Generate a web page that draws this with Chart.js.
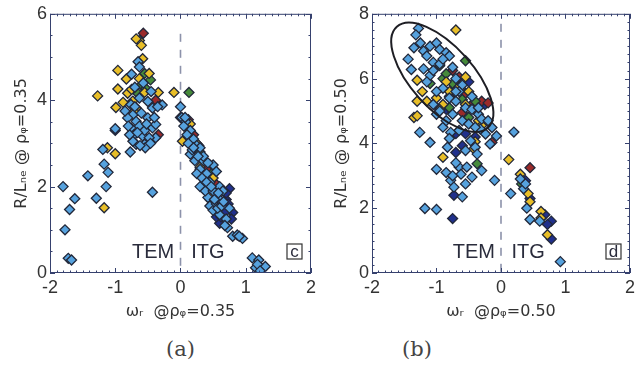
<!DOCTYPE html>
<html>
<head>
<meta charset="utf-8">
<script src="https://cdn.jsdelivr.net/npm/chart.js@4"></script>
<style>
    body { margin: 0; background: #fff; width: 639px; height: 375px; position: relative; overflow: hidden; }
    canvas { position: absolute; top: 0; }
    #chartA { left: 0; }
    #chartB { left: 320px; }
    .cap { position: absolute; top: 337px; font: 21px "DejaVu Serif", "Liberation Serif", serif; color: #444; }
</style>
</head>
<body>
<canvas id="chartA" width="320" height="330"></canvas>
<canvas id="chartB" width="319" height="330"></canvas>
<div class="cap" style="left:166px">(a)</div>
<div class="cap" style="left:402px">(b)</div>
<script>
// panel (a): rho = 0.35
const xTicks = [-2, -1, 0, 1, 2];
const aYTicks = [0, 2, 4, 6];
const bYTicks = [0, 2, 4, 6, 8];

const aBlue = [
    [-1.8, 2.0], [-1.77, 1.0], [-1.7, 1.47], [-1.62, 1.72], [-1.72, 0.34], [-1.67, 0.3],
    [-1.42, 2.25], [-1.29, 1.73], [-1.19, 2.86], [-1.17, 2.52], [-1.11, 2.33], [-1.14, 2.0],
    [-1.0, 3.34], [-0.77, 2.8], [-0.43, 1.87],
    [-0.65, 4.89], [-0.63, 4.77], [-0.76, 3.9], [-0.73, 3.66], [-0.68, 3.51], [-0.76, 3.36],
    [-0.63, 3.4], [-0.71, 3.2], [-0.58, 3.17], [-0.68, 2.98], [-0.55, 2.98], [-0.5, 3.59],
    [-0.43, 3.36], [-0.38, 3.13], [-0.48, 3.13], [-0.28, 3.89], [-0.43, 3.82], [-0.81, 3.59],
    [-0.63, 4.05], [-0.5, 3.97], [-0.73, 3.05], [-0.54, 2.9], [-0.38, 3.44], [-0.6, 3.7],
    [-0.78, 3.2], [-0.55, 3.3], [-0.45, 4.2], [-0.7, 4.3],
    [-0.85, 3.75], [-0.8, 3.4], [-0.66, 3.25], [-0.52, 3.45], [-0.46, 3.0], [-0.62, 2.95],
    [-0.7, 3.85], [-0.57, 4.4], [-0.75, 4.6], [-0.4, 3.6], [-0.35, 3.85],
    [0.0, 3.85], [0.02, 3.6], [0.08, 3.5], [0.15, 3.3], [0.2, 3.1], [0.25, 2.95], [0.15, 2.75],
    [0.22, 2.6], [0.3, 2.4], [0.35, 2.6], [0.4, 2.3], [0.45, 2.1], [0.5, 2.5], [0.55, 2.35],
    [0.6, 2.0], [0.65, 1.9], [0.42, 1.75], [0.45, 1.55], [0.5, 1.45], [0.55, 1.6], [0.6, 1.35],
    [0.7, 1.25], [0.72, 1.05], [0.75, 1.5], [0.8, 0.85], [0.87, 0.88], [0.95, 0.8], [1.1, 0.35],
    [1.2, 0.3], [1.15, 0.12], [1.25, 0.1], [1.3, 0.15], [0.1, 3.2], [0.3, 2.9], [0.35, 2.7],
    [0.6, 1.7], [0.3, 2.0], [0.38, 1.9], [0.25, 2.3], [0.5, 1.9],
    [0.05, 3.4], [0.12, 3.0], [0.18, 2.85], [0.27, 2.7], [0.33, 2.2], [0.4, 2.1], [0.47, 2.0],
    [0.52, 1.7], [0.57, 1.5], [0.63, 1.55], [0.68, 1.1], [0.66, 1.65], [0.58, 1.85],
    [0.42, 2.55], [0.2, 2.9], [0.07, 3.6], [1.18, 0.2], [1.22, 0.05], [0.9, 0.85]
];
const aYellow = [
    [-1.27, 4.1], [-1.12, 2.9], [-1.0, 2.76], [-1.17, 1.51],
    [-0.96, 4.69], [-0.83, 4.49], [-0.99, 3.83], [-0.96, 4.26], [-0.81, 4.16], [-0.63, 4.5],
    [-0.55, 4.18], [-0.34, 4.18], [-0.73, 3.98], [-0.68, 3.82], [-0.71, 3.74], [-0.1, 4.18],
    [-0.63, 5.38], [-0.68, 5.42], [-0.6, 5.27], [-0.58, 4.96], [-0.48, 4.62],
    [-0.75, 4.25], [-0.88, 3.95],
    [0.03, 3.05], [0.15, 3.45], [0.25, 3.0], [0.3, 2.45], [0.5, 2.2], [0.35, 1.95], [0.45, 1.8]
];
const aGreen = [
    [-0.55, 4.62], [-0.6, 4.35], [-0.53, 4.27], [0.13, 4.18], [-0.46, 4.47], [-0.65, 4.15],
    [0.3, 2.8], [0.1, 3.35], [0.48, 2.3]
];
const aRed = [
    [-0.57, 5.55], [-0.38, 4.0], [-0.34, 3.2],
    [0.0, 3.6], [0.08, 3.4], [0.2, 3.2], [0.28, 2.95], [0.45, 2.5], [0.52, 1.85], [0.55, 2.05],
    [0.4, 2.4], [0.12, 3.55]
];
const aNavy = [
    [-1.0, 3.3], [0.65, 1.5], [0.7, 1.7], [0.75, 1.95], [0.8, 1.4], [0.6, 1.15], [0.68, 1.4],
    [0.55, 1.3], [0.7, 1.85], [0.45, 1.7], [0.62, 1.3], [0.73, 1.6], [0.78, 1.25]
];

// panel (b): rho = 0.50
const bBlue = [
    [-1.44, 6.6], [-1.39, 6.28], [-1.26, 4.34], [-1.1, 4.03], [-1.18, 1.99], [-1.0, 1.96],
    [-1.0, 3.2], [-0.83, 3.88], [-0.78, 2.86], [-0.73, 2.65], [-0.6, 2.35], [-0.65, 3.27],
    [-0.53, 3.27], [-0.45, 2.96], [-0.47, 4.08], [-0.4, 3.88], [-0.37, 3.67], [-0.3, 3.16],
    [-0.17, 3.98], [-0.1, 2.86], [-0.14, 4.49], [-0.07, 4.23], [-0.32, 4.44], [-0.24, 4.29],
    [-0.55, 3.78], [-0.78, 4.34],
    [-1.0, 4.9], [-0.9, 4.5], [-0.8, 4.15], [-0.7, 3.4], [-0.62, 3.05], [-0.55, 2.75],
    [-0.85, 3.1], [-0.75, 3.0],
    [-1.28, 7.55], [-1.32, 7.35], [-1.25, 7.1], [-1.2, 6.85], [-1.35, 6.95], [-1.1, 7.0],
    [-1.0, 7.1], [-0.95, 6.9], [-0.85, 6.8], [-0.8, 6.7], [-1.15, 6.7], [-1.05, 6.5],
    [-0.95, 6.45], [-1.2, 6.3], [-1.1, 6.1], [-0.75, 6.35], [-0.7, 6.0], [-0.6, 5.8],
    [-0.9, 5.7], [-0.8, 5.4], [-0.7, 5.3], [-0.55, 5.1], [-0.45, 5.05], [-0.35, 4.9],
    [-0.6, 4.7], [-0.5, 4.6], [-0.75, 4.9], [-0.85, 4.7], [-0.95, 5.0], [-1.05, 5.2],
    [-0.3, 4.75], [-0.2, 4.7], [-0.65, 4.4], [-0.4, 4.5], [-1.0, 5.6], [-0.65, 5.6],
    [-1.15, 5.9], [-1.05, 6.25], [-0.9, 6.6], [-0.7, 5.6], [-0.45, 5.45], [-0.35, 5.1],
    [0.2, 4.35], [0.15, 2.45], [0.3, 2.9], [0.35, 2.6], [0.4, 2.0], [0.45, 1.65], [0.6, 1.6],
    [0.92, 0.35], [0.38, 2.75]
];
const bYellow = [
    [-0.9, 3.57], [-0.42, 3.83], [-0.7, 7.5], [-1.3, 5.95], [-1.22, 5.6], [-1.15, 5.3],
    [-1.3, 5.3], [-1.0, 5.4], [-0.9, 5.2], [-0.8, 5.6], [-0.65, 5.75], [-0.55, 5.2],
    [-0.5, 5.6], [-0.35, 4.7], [-0.3, 4.55], [-1.35, 4.8], [-1.3, 4.85], [-0.85, 5.9],
    [-0.55, 6.05], [-0.95, 5.05], [-0.4, 4.05],
    [0.12, 3.5], [0.3, 3.05], [0.42, 2.45], [0.45, 2.2], [0.62, 1.9], [0.62, 1.7], [0.72, 1.18]
];
const bGreen = [
    [-0.37, 3.37], [-0.55, 6.55], [-0.95, 6.4], [-0.9, 6.0], [-0.85, 6.15], [-0.75, 5.85],
    [-0.6, 5.35], [-0.8, 5.1], [-0.5, 4.8], [-0.4, 5.3], [-1.1, 5.85], [0.32, 2.75]
];
const bRed = [
    [-0.14, 4.03], [-0.75, 6.25], [-0.65, 6.05], [-0.8, 5.45], [-0.55, 5.55], [-0.45, 5.2],
    [-0.3, 5.3], [-0.2, 5.25], [-0.6, 4.95], [0.45, 3.25]
];
const bNavy = [
    [-0.75, 1.68], [-0.73, 2.4], [-0.6, 3.93], [-0.7, 3.72], [-0.7, 4.3], [-0.55, 4.3],
    [-0.25, 5.2], [-0.4, 4.2], [-0.85, 5.05], [-0.5, 5.9],
    [0.38, 2.85], [0.45, 2.3], [0.68, 1.8], [0.78, 1.6], [0.72, 1.5], [0.78, 1.05]
];

const colors = {
    blue: '#56a2de',
    yellow: '#e8be28',
    green: '#468a3a',
    red: '#9a2a2a',
    navy: '#20308c'
};

function toPoints(arr) {
    return arr.map(p => ({ x: p[0], y: p[1] }));
}

function makeSet(arr, color) {
    return {
        data: toPoints(arr),
        pointStyle: 'rectRot',
        pointRadius: 5,
        pointHoverRadius: 5,
        backgroundColor: color,
        borderColor: '#22283a',
        borderWidth: 1.3
    };
}

// frame, minor ticks, dashed line, labels, ellipse
const decorPlugin = {
    id: 'decor',
    beforeDatasetsDraw(chart, args, opts) {
        const { ctx, chartArea: a, scales: { x } } = chart;
        const x0 = x.getPixelForValue(0);
        ctx.save();
        ctx.strokeStyle = '#8c92aa';
        ctx.lineWidth = 1.6;
        ctx.setLineDash([8, 8]);
        ctx.beginPath();
        ctx.moveTo(x0, a.top + opts.dashTop);
        ctx.lineTo(x0, a.bottom);
        ctx.stroke();
        ctx.restore();
    },
    afterDatasetsDraw(chart, args, opts) {
        const { ctx, chartArea: a, scales: { x, y } } = chart;
        ctx.save();
        // frame
        ctx.strokeStyle = '#36416e';
        ctx.lineWidth = 1;
        ctx.strokeRect(a.left + 0.5, a.top + 0.5, a.width - 1, a.height - 1);
        // minor ticks
        ctx.beginPath();
        for (let v = -2; v <= 2.001; v += 0.1) {
            const px = Math.round(x.getPixelForValue(v)) + 0.5;
            const len = Math.abs(v - Math.round(v)) < 0.01 ? 5 : 2.5;
            ctx.moveTo(px, a.top); ctx.lineTo(px, a.top + len);
            ctx.moveTo(px, a.bottom); ctx.lineTo(px, a.bottom - len);
        }
        for (let v = 0; v <= y.max + 0.001; v += opts.yMinor) {
            const py = Math.round(y.getPixelForValue(v)) + 0.5;
            const len = Math.abs(v / 2 - Math.round(v / 2)) < 0.01 ? 5 : 2.5;
            ctx.moveTo(a.left, py); ctx.lineTo(a.left + len, py);
            ctx.moveTo(a.right, py); ctx.lineTo(a.right - len, py);
        }
        ctx.stroke();

        // ellipse
        if (opts.ellipse) {
            const e = opts.ellipse;
            ctx.strokeStyle = '#1e1e24';
            ctx.lineWidth = 2;
            ctx.beginPath();
            ctx.ellipse(x.getPixelForValue(e.x), y.getPixelForValue(e.y), e.rx, e.ry, e.rot, 0, Math.PI * 2);
            ctx.stroke();
        }

        // TEM / ITG
        ctx.fillStyle = '#2a2c3c';
        ctx.font = '20px "Liberation Sans", Arial, sans-serif';
        ctx.textAlign = 'center';
        ctx.textBaseline = 'alphabetic';
        const ty = a.bottom - 15;
        ctx.fillText('TEM', x.getPixelForValue(-0.42), ty);
        ctx.fillText('ITG', x.getPixelForValue(0.42), ty);

        // panel letter in box
        const bx = a.right - 24, by = a.bottom - 29;
        ctx.strokeStyle = '#333';
        ctx.lineWidth = 1.2;
        ctx.strokeRect(bx, by, 15, 15);
        ctx.font = '17px "Liberation Sans", Arial, sans-serif';
        ctx.fillText(opts.letter, bx + 7.5, by + 13);
        ctx.restore();
    }
};

function makeChart(id, sets, yTicks, yTitle, xTitle, pad, decor) {
    const ctx = document.getElementById(id).getContext('2d');
    const tickFont = { family: '"Liberation Sans", Arial, sans-serif', size: 18 };
    const titleFont = { family: '"DejaVu Sans", "Liberation Sans", sans-serif', size: 16 };
    return new Chart(ctx, {
        type: 'scatter',
        data: { datasets: sets },
        options: {
            responsive: false,
            animation: false,
            layout: { padding: pad },
            plugins: {
                legend: { display: false },
                tooltip: { enabled: false },
                decor: decor
            },
            scales: {
                x: {
                    type: 'linear',
                    min: xTicks[0],
                    max: xTicks[xTicks.length - 1],
                    afterBuildTicks: s => { s.ticks = xTicks.map(v => ({ value: v })); },
                    afterFit: s => { s.height = 57; },
                    grid: { display: false, drawTicks: false, tickLength: 0 },
                    border: { display: false },
                    ticks: { color: '#333', font: tickFont, padding: 4, maxRotation: 0 },
                    title: { display: true, text: xTitle, color: '#333', font: titleFont, padding: { top: 2, bottom: 9 } }
                },
                y: {
                    type: 'linear',
                    min: yTicks[0],
                    max: yTicks[yTicks.length - 1],
                    afterBuildTicks: s => { s.ticks = yTicks.map(v => ({ value: v })); },
                    afterFit: s => { s.width = pad.axisW; },
                    grid: { display: false, drawTicks: false, tickLength: 0 },
                    border: { display: false },
                    ticks: { color: '#333', font: tickFont, padding: 3 },
                    title: { display: true, text: yTitle, color: '#333', font: titleFont, padding: { top: 12, bottom: 0 } }
                }
            }
        },
        plugins: [decorPlugin]
    });
}

makeChart('chartA',
    [makeSet(aBlue, colors.blue), makeSet(aYellow, colors.yellow), makeSet(aGreen, colors.green),
     makeSet(aRed, colors.red), makeSet(aNavy, colors.navy)],
    aYTicks, 'R/Lₙₑ @ ρᵩ=0.35', 'ωᵣ  @ρᵩ=0.35',
    { top: 11, right: 7, left: 0, bottom: 0, axisW: 50 },
    { letter: 'c', yMinor: 0.5, dashTop: 20 });

makeChart('chartB',
    [makeSet(bBlue, colors.blue), makeSet(bYellow, colors.yellow), makeSet(bGreen, colors.green),
     makeSet(bRed, colors.red), makeSet(bNavy, colors.navy)],
    bYTicks, 'R/Lₙₑ @ ρᵩ=0.50', 'ωᵣ  @ρᵩ=0.50',
    { top: 12, right: 6, left: 0, bottom: 0, axisW: 52 },
    { letter: 'd', yMinor: 0.25, dashTop: 10,
      ellipse: { x: -0.91, y: 6.04, rx: 68, ry: 31, rot: 48 * Math.PI / 180 } });
</script>
</body>
</html>
